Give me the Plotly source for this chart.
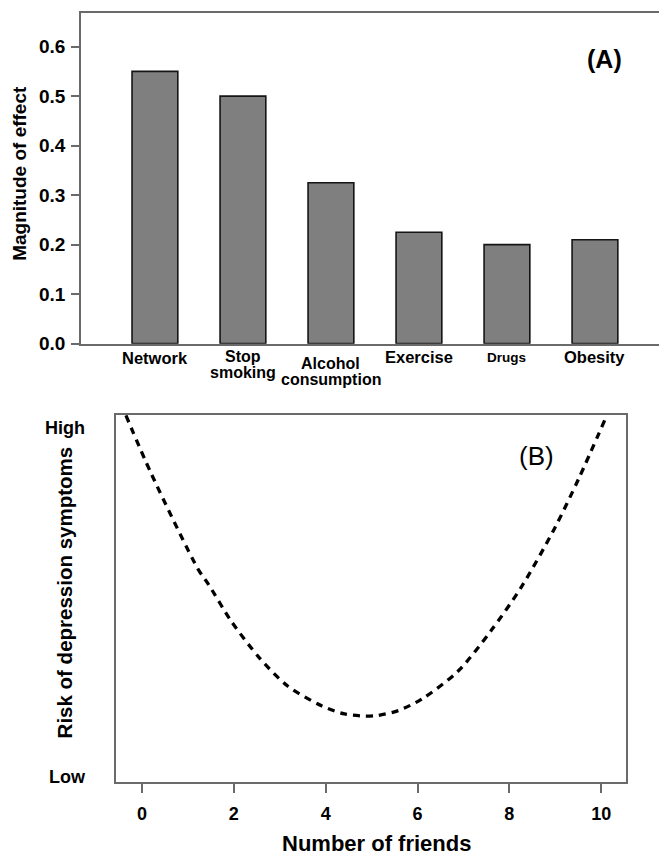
import plotly.graph_objects as go

W, H = 667, 860

# ---- Panel A data ----
categories = ["Network", "Stop<br>smoking", "Alcohol<br>consumption", "Exercise", "Drugs", "Obesity"]
effect_values = [0.55, 0.50, 0.325, 0.225, 0.20, 0.21]
y_ticks_a = [0.0, 0.1, 0.2, 0.3, 0.4, 0.5, 0.6]

# ---- Panel B data ----
friends = [-0.35, 0.20, 1.22, 1.44, 1.95, 2.56, 3.17, 3.91, 4.41, 4.85, 5.14, 5.58, 6.09, 6.88, 7.61, 8.26, 8.99, 9.51, 10.09]
risk = [0.998, 0.840, 0.580, 0.540, 0.437, 0.338, 0.262, 0.208, 0.186, 0.180, 0.182, 0.195, 0.226, 0.302, 0.414, 0.531, 0.692, 0.826, 0.989]
x_ticks_b = [0, 2, 4, 6, 8, 10]
risk_tick_vals = [0.015, 0.965]
risk_tick_text = ["Low", "High"]

FONT = "Liberation Sans, Arial, sans-serif"
FRAME = "#6a6a6a"

def px(x):
    return x / W

def py(y):
    return 1 - y / H

fig = go.Figure()

fig.add_trace(go.Bar(
    x=list(range(len(categories))), y=effect_values, width=0.52,
    marker=dict(color="#7f7f7f", line=dict(color="#151515", width=1.6)),
    xaxis="x", yaxis="y", showlegend=False,
))

fig.add_trace(go.Scatter(
    x=friends, y=risk, mode="lines",
    line=dict(color="black", width=3.3, dash="7px,6px", shape="spline", smoothing=0.8),
    xaxis="x2", yaxis="y2", showlegend=False,
))

fig.update_layout(
    width=W, height=H,
    margin=dict(l=0, r=0, t=0, b=0),
    paper_bgcolor="white", plot_bgcolor="white",
    font=dict(family=FONT, color="black"),
    xaxis=dict(
        domain=[px(73), px(660)], anchor="y",
        range=[-0.84, 5.83], showticklabels=False, ticks="",
        showline=True, linecolor=FRAME, linewidth=1.6, mirror=True,
        showgrid=False, zeroline=False,
    ),
    yaxis=dict(
        domain=[py(340), py(5)], anchor="x",
        range=[0, 0.668], tickvals=y_ticks_a,
        ticktext=[f"{v:.1f}" for v in y_ticks_a],
        ticks="outside", ticklen=8, tickwidth=1.6, tickcolor=FRAME,
        ticklabelstandoff=2,
        tickfont=dict(family=FONT, size=19, color="black", weight="bold"),
        showline=True, linecolor=FRAME, linewidth=1.6, mirror=True,
        showgrid=False, zeroline=False,
    ),
    xaxis2=dict(
        domain=[px(108.3), px(618)], anchor="y2",
        range=[-0.56, 10.54], tickvals=x_ticks_b,
        ticktext=[str(v) for v in x_ticks_b],
        ticks="outside", ticklen=9, tickwidth=1.6, tickcolor=FRAME,
        ticklabelstandoff=5,
        tickfont=dict(family=FONT, size=18, color="black", weight="bold"),
        showline=True, linecolor=FRAME, linewidth=1.6, mirror=True,
        showgrid=False, zeroline=False,
    ),
    yaxis2=dict(
        domain=[py(784.3), py(412)], anchor="x2",
        range=[0, 1], tickvals=risk_tick_vals, ticktext=risk_tick_text,
        ticks="outside", ticklen=26, tickcolor="rgba(0,0,0,0)",
        tickfont=dict(family=FONT, size=18, color="black", weight="bold"),
        showline=True, linecolor=FRAME, linewidth=1.6, mirror=True,
        showgrid=False, zeroline=False,
    ),
)

annotations = []
# category labels (panel A)
label_centers = [355, 361, 368.5, 354, 354, 354]
label_sizes = [16.5, 16, 16, 16.5, 13.5, 16.5]
line_gap = 16.5
for i, lab in enumerate(categories):
    lines = lab.split("<br>")
    n = len(lines)
    for j, ln in enumerate(lines):
        yy = label_centers[i] + (j - (n - 1) / 2) * line_gap
        annotations.append(dict(
            x=i, xref="x", y=py(yy), yref="paper", text=ln, showarrow=False,
            xanchor="center", yanchor="middle",
            font=dict(family=FONT, size=label_sizes[i], color="black", weight="bold"),
        ))

annotations += [
    dict(x=px(12), y=py(168), xref="paper", yref="paper", text="Magnitude of effect",
         textangle=-90, showarrow=False, xanchor="center", yanchor="middle",
         font=dict(family=FONT, size=19, color="black", weight="bold")),
    dict(x=px(596), y=py(52), xref="paper", yref="paper", text="(A)",
         showarrow=False, xanchor="center", yanchor="middle",
         font=dict(family=FONT, size=25, color="black", weight="bold")),
    dict(x=px(528), y=py(454), xref="paper", yref="paper", text="(B)",
         showarrow=False, xanchor="center", yanchor="middle",
         font=dict(family=FONT, size=26, color="black")),
    dict(x=px(56), y=py(592), xref="paper", yref="paper", text="Risk of depression symptoms",
         textangle=-90, showarrow=False, xanchor="center", yanchor="middle",
         font=dict(family=FONT, size=20.5, color="black", weight="bold")),
    dict(x=px(368), y=py(846), xref="paper", yref="paper", text="Number of friends",
         showarrow=False, xanchor="center", yanchor="middle",
         font=dict(family=FONT, size=22, color="black", weight="bold")),
]

fig.update_layout(annotations=annotations)

fig.write_html("out.html")
